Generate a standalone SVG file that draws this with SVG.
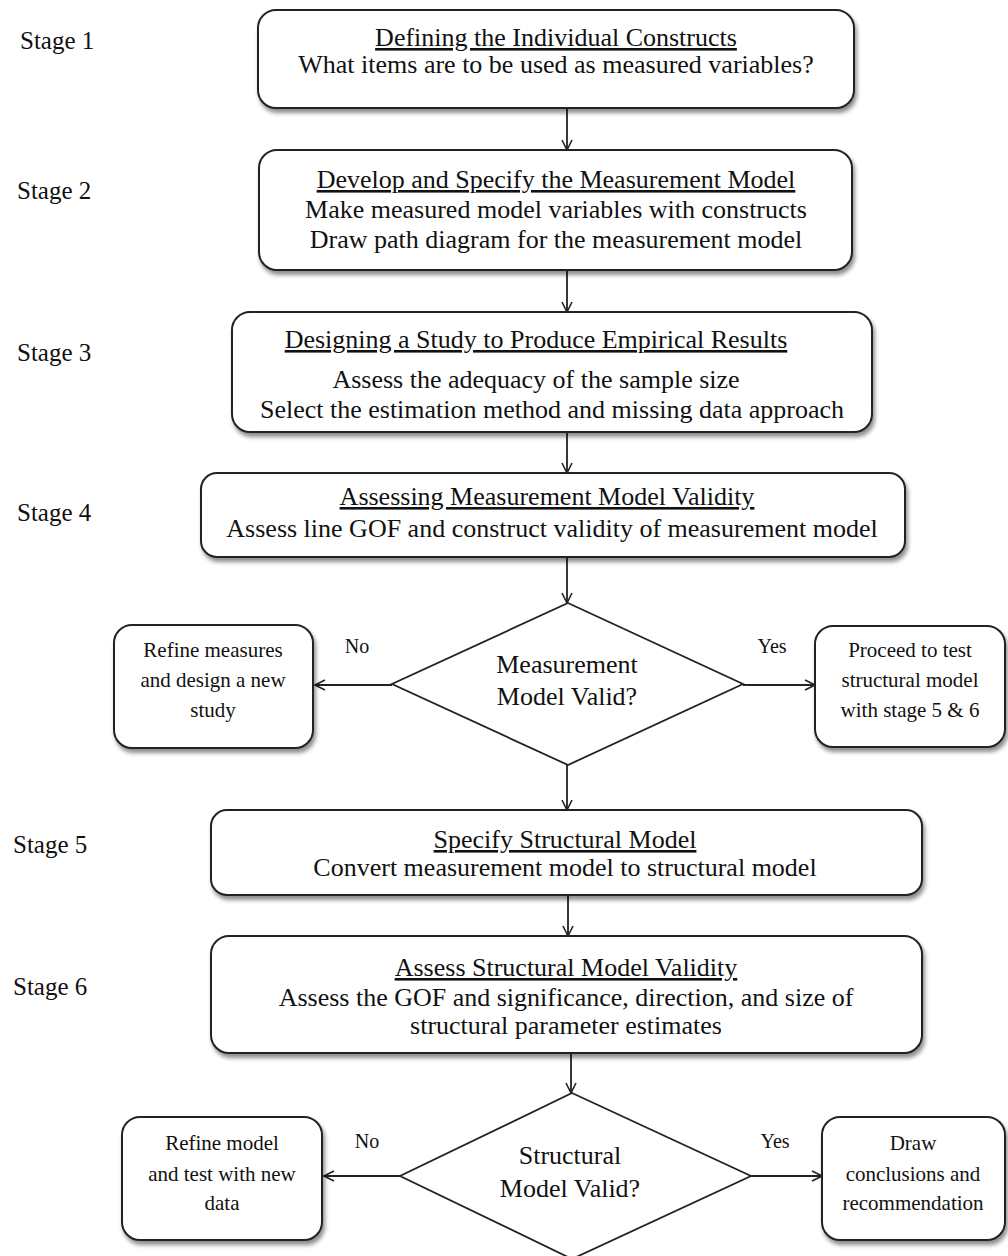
<svg xmlns="http://www.w3.org/2000/svg" width="1008" height="1256" viewBox="0 0 1008 1256">
  <defs>
    <filter id="shadow" x="-5%" y="-5%" width="112%" height="125%">
      <feGaussianBlur in="SourceAlpha" stdDeviation="2.2"/>
      <feOffset dx="2" dy="4" result="blur"/>
      <feComponentTransfer><feFuncA type="linear" slope="0.45"/></feComponentTransfer>
      <feMerge><feMergeNode/><feMergeNode in="SourceGraphic"/></feMerge>
    </filter>
    <marker id="arrow" viewBox="0 0 12 12" refX="11" refY="6" markerWidth="12" markerHeight="12" markerUnits="userSpaceOnUse" orient="auto">
      <path d="M1,1 L11,6 L1,11" fill="none" stroke="#222" stroke-width="1.6"/>
    </marker>
  </defs>
  <style>
    text { font-family: "Liberation Serif", "Times New Roman", serif; fill: #111; }
    .box { fill: #fff; stroke: #222; stroke-width: 2; filter: url(#shadow); }
    .dia { fill: #fff; stroke: #222; stroke-width: 1.8; }
    .main { font-size: 26px; text-anchor: middle; }
    .title { text-decoration: underline; }
    .stage { font-size: 25px; }
    .small { font-size: 21px; text-anchor: middle; }
    .lbl { font-size: 20px; text-anchor: middle; }
    .conn { stroke: #222; stroke-width: 1.8; fill: none; marker-end: url(#arrow); }
  </style>
  <rect width="1008" height="1256" fill="#fff"/>

  <!-- stage labels -->
  <g id="stage-labels">
    <text class="stage" x="20" y="49">Stage 1</text>
    <text class="stage" x="17" y="199">Stage 2</text>
    <text class="stage" x="17" y="361">Stage 3</text>
    <text class="stage" x="17" y="521">Stage 4</text>
    <text class="stage" x="13" y="853">Stage 5</text>
    <text class="stage" x="13" y="995">Stage 6</text>
  </g>

  <!-- connectors -->
  <g id="connectors">
    <path class="conn" d="M567,108 L567,150"/>
    <path class="conn" d="M567,270 L567,312"/>
    <path class="conn" d="M567,432 L567,473"/>
    <path class="conn" d="M567,557 L567,603"/>
    <path class="conn" d="M567,765 L567,810"/>
    <path class="conn" d="M568,895 L568,936"/>
    <path class="conn" d="M571,1053 L571,1093"/>
    <path class="conn" d="M392,685 L315,685"/>
    <path class="conn" d="M743,685 L815,685"/>
    <path class="conn" d="M400,1176 L324,1176"/>
    <path class="conn" d="M751,1176 L822,1176"/>
    <text class="lbl" x="357" y="653">No</text>
    <text class="lbl" x="772" y="653">Yes</text>
    <text class="lbl" x="367" y="1148">No</text>
    <text class="lbl" x="775" y="1148">Yes</text>
  </g>

  <g id="stage1">
    <rect class="box" x="258" y="10" width="596" height="98" rx="18"/>
    <text class="main title" x="556" y="46">Defining the Individual Constructs</text>
    <text class="main" x="556" y="73">What items are to be used as measured variables?</text>
  </g>

  <g id="stage2">
    <rect class="box" x="259" y="150" width="593" height="120" rx="18"/>
    <text class="main title" x="556" y="188">Develop and Specify the Measurement Model</text>
    <text class="main" x="556" y="218">Make measured model variables with constructs</text>
    <text class="main" x="556" y="248">Draw path diagram for the measurement model</text>
  </g>

  <g id="stage3">
    <rect class="box" x="232" y="312" width="640" height="120" rx="18"/>
    <text class="main title" x="536" y="348">Designing a Study to Produce Empirical Results</text>
    <text class="main" x="536" y="388">Assess the adequacy of the sample size</text>
    <text class="main" x="552" y="418">Select the estimation method and missing data approach</text>
  </g>

  <g id="stage4">
    <rect class="box" x="201" y="473" width="704" height="84" rx="16"/>
    <text class="main title" x="547" y="505">Assessing Measurement Model Validity</text>
    <text class="main" x="552" y="537">Assess line GOF and construct validity of measurement model</text>
  </g>

  <g id="decision1">
    <polygon class="dia" points="568,603 743,684 568,765 392,684"/>
    <text class="main" x="567" y="673">Measurement</text>
    <text class="main" x="567" y="705">Model Valid?</text>
  </g>

  <g id="refine-measures">
    <rect class="box" x="114" y="625" width="199" height="123" rx="18"/>
    <text class="small" x="213" y="657">Refine measures</text>
    <text class="small" x="213" y="687">and design a new</text>
    <text class="small" x="213" y="717">study</text>
  </g>

  <g id="proceed">
    <rect class="box" x="815" y="626" width="190" height="121" rx="18"/>
    <text class="small" x="910" y="657">Proceed to test</text>
    <text class="small" x="910" y="687">structural model</text>
    <text class="small" x="910" y="717">with stage 5 &amp; 6</text>
  </g>

  <g id="stage5">
    <rect class="box" x="211" y="810" width="711" height="85" rx="16"/>
    <text class="main title" x="565" y="848">Specify Structural Model</text>
    <text class="main" x="565" y="876">Convert measurement model to structural model</text>
  </g>

  <g id="stage6">
    <rect class="box" x="211" y="936" width="711" height="117" rx="18"/>
    <text class="main title" x="566" y="976">Assess Structural Model Validity</text>
    <text class="main" x="566" y="1006">Assess the GOF and significance, direction, and size of</text>
    <text class="main" x="566" y="1034">structural parameter estimates</text>
  </g>

  <g id="decision2">
    <polygon class="dia" points="572,1093 751,1176 572,1259 400,1176"/>
    <text class="main" x="570" y="1164">Structural</text>
    <text class="main" x="570" y="1197">Model Valid?</text>
  </g>

  <g id="refine-model">
    <rect class="box" x="122" y="1117" width="200" height="123" rx="18"/>
    <text class="small" x="222" y="1150">Refine model</text>
    <text class="small" x="222" y="1181">and test with new</text>
    <text class="small" x="222" y="1210">data</text>
  </g>

  <g id="conclusions">
    <rect class="box" x="822" y="1117" width="183" height="123" rx="18"/>
    <text class="small" x="913" y="1150">Draw</text>
    <text class="small" x="913" y="1181">conclusions and</text>
    <text class="small" x="913" y="1210">recommendation</text>
  </g>
</svg>
